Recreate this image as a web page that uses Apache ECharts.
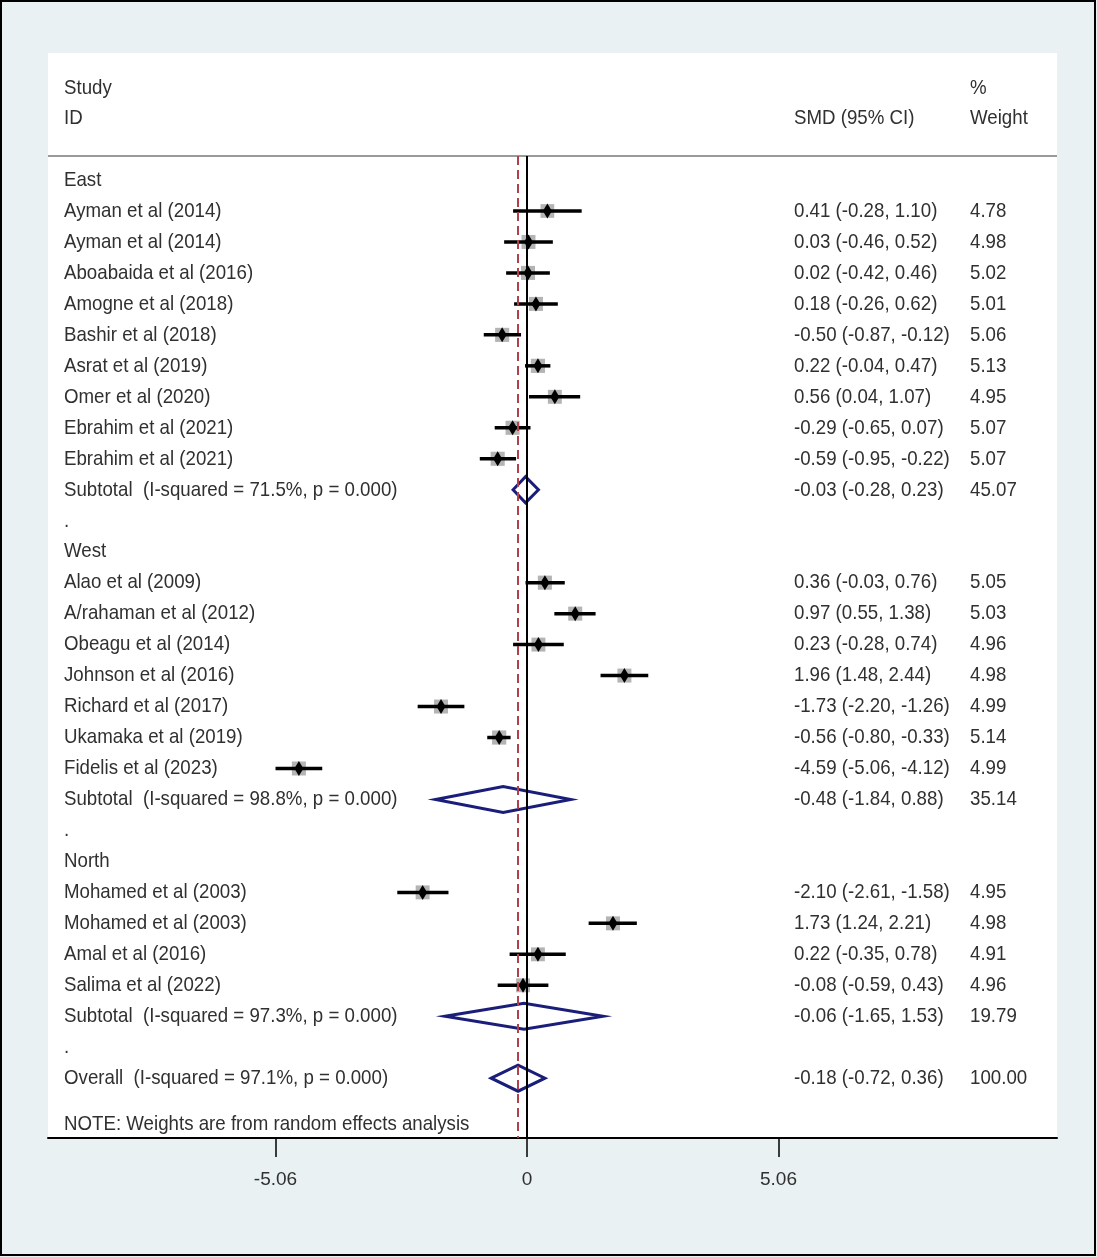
<!DOCTYPE html>
<html>
<head>
<meta charset="utf-8">
<script src="https://cdn.jsdelivr.net/npm/echarts@6/dist/echarts.min.js"></script>
<style>
  html, body { margin: 0; padding: 0; }
  #chart { width: 1097px; height: 1257px; }
</style>
</head>
<body>
<div id="chart"></div>
<script>
// 每一行的类型: group / study / subtotal / gap / overall
const rowTypes = [
    'group', 'study', 'study', 'study', 'study', 'study', 'study', 'study', 'study', 'study', 'subtotal', 'gap',
    'group', 'study', 'study', 'study', 'study', 'study', 'study', 'study', 'subtotal', 'gap',
    'group', 'study', 'study', 'study', 'study', 'subtotal', 'gap',
    'overall'
];
const rowLabels = [
    'East', 'Ayman et al (2014)', 'Ayman et al (2014)', 'Aboabaida et al (2016)', 'Amogne et al (2018)',
    'Bashir et al (2018)', 'Asrat et al (2019)', 'Omer et al (2020)', 'Ebrahim et al (2021)', 'Ebrahim et al (2021)',
    'Subtotal  (I-squared = 71.5%, p = 0.000)', '.',
    'West', 'Alao et al (2009)', 'A/rahaman et al (2012)', 'Obeagu et al (2014)', 'Johnson et al (2016)',
    'Richard et al (2017)', 'Ukamaka et al (2019)', 'Fidelis et al (2023)',
    'Subtotal  (I-squared = 98.8%, p = 0.000)', '.',
    'North', 'Mohamed et al (2003)', 'Mohamed et al (2003)', 'Amal et al (2016)', 'Salima et al (2022)',
    'Subtotal  (I-squared = 97.3%, p = 0.000)', '.',
    'Overall  (I-squared = 97.1%, p = 0.000)'
];
const smd = [
    null, 0.41, 0.03, 0.02, 0.18, -0.50, 0.22, 0.56, -0.29, -0.59, -0.03, null,
    null, 0.36, 0.97, 0.23, 1.96, -1.73, -0.56, -4.59, -0.48, null,
    null, -2.10, 1.73, 0.22, -0.08, -0.06, null,
    -0.18
];
const ciLow = [
    null, -0.28, -0.46, -0.42, -0.26, -0.87, -0.04, 0.04, -0.65, -0.95, -0.28, null,
    null, -0.03, 0.55, -0.28, 1.48, -2.20, -0.80, -5.06, -1.84, null,
    null, -2.61, 1.24, -0.35, -0.59, -1.65, null,
    -0.72
];
const ciHigh = [
    null, 1.10, 0.52, 0.46, 0.62, -0.12, 0.47, 1.07, 0.07, -0.22, 0.23, null,
    null, 0.76, 1.38, 0.74, 2.44, -1.26, -0.33, -4.12, 0.88, null,
    null, -1.58, 2.21, 0.78, 0.43, 1.53, null,
    0.36
];
const weights = [
    null, 4.78, 4.98, 5.02, 5.01, 5.06, 5.13, 4.95, 5.07, 5.07, 45.07, null,
    null, 5.05, 5.03, 4.96, 4.98, 4.99, 5.14, 4.99, 35.14, null,
    null, 4.95, 4.98, 4.91, 4.96, 19.79, null,
    100.00
];
const xTicks = [-5.06, 0, 5.06];
const noteText = 'NOTE: Weights are from random effects analysis';

const FONT = "'Liberation Sans', Arial, sans-serif";
const TEXT_COLOR = '#303030';
const NAVY = '#1a1e78';
const SQUEEZE = 0.89; // 原图文字偏窄

window.addEventListener('DOMContentLoaded', function() {
    initForestPlot();
});

function fmt(v) {
    return v.toFixed(2);
}

function textEl(text, x, y) {
    return {
        type: 'text',
        x: x,
        y: y,
        scaleX: SQUEEZE,
        style: { text: text, fontFamily: FONT, fontSize: 21, fill: TEXT_COLOR, verticalAlign: 'middle' }
    };
}

function initForestPlot() {
    const chartDom = document.getElementById('chart');
    const myChart = echarts.init(chartDom);

    const overallIdx = rowTypes.indexOf('overall');

    // 研究行数据: [est, lo, hi, row, weight]
    const studyData = [];
    const diamondData = [];
    rowTypes.forEach((t, i) => {
        if (t === 'study') {
            studyData.push([smd[i], ciLow[i], ciHigh[i], i, weights[i]]);
        } else if (t === 'subtotal' || t === 'overall') {
            diamondData.push([smd[i], ciLow[i], ciHigh[i], i]);
        }
    });

    // 文字列 (最后一行为注释)
    const textData = rowLabels.map((_, i) => [0, i]);
    textData.push([0, rowLabels.length + 0.48]);

    const headerTexts = [
        Object.assign(textEl('Study', 64, 88), { z: 5, silent: true }),
        Object.assign(textEl('ID', 64, 118), { z: 5, silent: true }),
        Object.assign(textEl('SMD (95% CI)', 794, 118), { z: 5, silent: true }),
        Object.assign(textEl('%', 970, 88), { z: 5, silent: true }),
        Object.assign(textEl('Weight', 970, 118), { z: 5, silent: true })
    ];

    const option = {
        backgroundColor: '#e9f1f3',
        animation: false,
        grid: {
            left: 48,
            right: 40,
            top: 156,
            bottom: 119
        },
        graphic: [
            { type: 'rect', z: -10, silent: true, shape: { x: 48, y: 53, width: 1009, height: 1085 }, style: { fill: '#ffffff' } },
            { type: 'rect', z: 100, silent: true, shape: { x: 1, y: 1, width: 1094, height: 1254 }, style: { fill: 'none', stroke: '#000', lineWidth: 2 } },
            { type: 'line', z: 5, silent: true, shape: { x1: 48, y1: 156, x2: 1057, y2: 156 }, style: { stroke: '#9a9a9a', lineWidth: 2 } }
        ].concat(headerTexts),
        xAxis: {
            type: 'value',
            min: -9.638,
            max: 10.664,
            axisLine: { show: true, onZero: false, lineStyle: { color: '#000', width: 2 } },
            axisTick: { show: true, customValues: xTicks, length: 19, lineStyle: { color: '#000', width: 1.5 } },
            axisLabel: {
                customValues: xTicks,
                margin: 32,
                fontFamily: FONT,
                fontSize: 19,
                color: TEXT_COLOR,
                formatter: v => (v === 0 ? '0' : fmt(v))
            },
            splitLine: { show: false }
        },
        yAxis: {
            type: 'value',
            inverse: true,
            min: -0.775,
            max: 30.93,
            show: false
        },
        series: [
            {
                // 参考线: 0 与合并效应
                type: 'custom',
                name: 'refLines',
                data: [],
                renderItem: () => null,
                markLine: {
                    silent: true,
                    symbol: 'none',
                    label: { show: false },
                    animation: false,
                    data: [
                        { xAxis: 0, lineStyle: { color: '#000', width: 2, type: 'solid' } },
                        { xAxis: smd[overallIdx], lineStyle: { color: '#b0404c', width: 2, type: [9, 5] } }
                    ]
                }
            },
            {
                // 各研究: 权重方块 + 置信区间 + 点估计
                type: 'custom',
                name: 'studies',
                z: 3,
                data: studyData,
                renderItem: function(params, api) {
                    const p = api.coord([api.value(0), api.value(3)]);
                    const pl = api.coord([api.value(1), api.value(3)]);
                    const ph = api.coord([api.value(2), api.value(3)]);
                    const box = 14 * Math.sqrt(api.value(4) / 5);
                    return {
                        type: 'group',
                        children: [
                            { type: 'rect', shape: { x: p[0] - box / 2, y: p[1] - box / 2, width: box, height: box }, style: { fill: '#b4b4b4' } },
                            { type: 'line', shape: { x1: pl[0], y1: p[1], x2: ph[0], y2: p[1] }, style: { stroke: '#000', lineWidth: 3.5 } },
                            { type: 'polygon', shape: { points: [[p[0] - 4.5, p[1]], [p[0], p[1] - 7.5], [p[0] + 4.5, p[1]], [p[0], p[1] + 7.5]] }, style: { fill: '#000' } }
                        ]
                    };
                }
            },
            {
                // 合并效应菱形
                type: 'custom',
                name: 'pooled',
                z: 4,
                data: diamondData,
                renderItem: function(params, api) {
                    const p = api.coord([api.value(0), api.value(3)]);
                    const pl = api.coord([api.value(1), api.value(3)]);
                    const ph = api.coord([api.value(2), api.value(3)]);
                    return {
                        type: 'polygon',
                        shape: { points: [[pl[0], p[1]], [p[0], p[1] - 13], [ph[0], p[1]], [p[0], p[1] + 13]] },
                        style: { fill: 'none', stroke: NAVY, lineWidth: 3 }
                    };
                }
            },
            {
                // 文字列: 研究名称 / SMD / 权重
                type: 'custom',
                name: 'texts',
                z: 5,
                clip: false,
                data: textData,
                renderItem: function(params, api) {
                    const i = params.dataIndex;
                    const y = api.coord([0, api.value(1)])[1];
                    if (i >= rowLabels.length) {
                        return textEl(noteText, 64, y);
                    }
                    const children = [textEl(rowLabels[i], 64, y)];
                    if (smd[i] !== null) {
                        children.push(textEl(fmt(smd[i]) + ' (' + fmt(ciLow[i]) + ', ' + fmt(ciHigh[i]) + ')', 794, y));
                        children.push(textEl(fmt(weights[i]), 970, y));
                    }
                    return { type: 'group', children: children };
                }
            }
        ]
    };

    myChart.setOption(option);
    window.addEventListener('resize', () => myChart.resize());
}
</script>
</body>
</html>
